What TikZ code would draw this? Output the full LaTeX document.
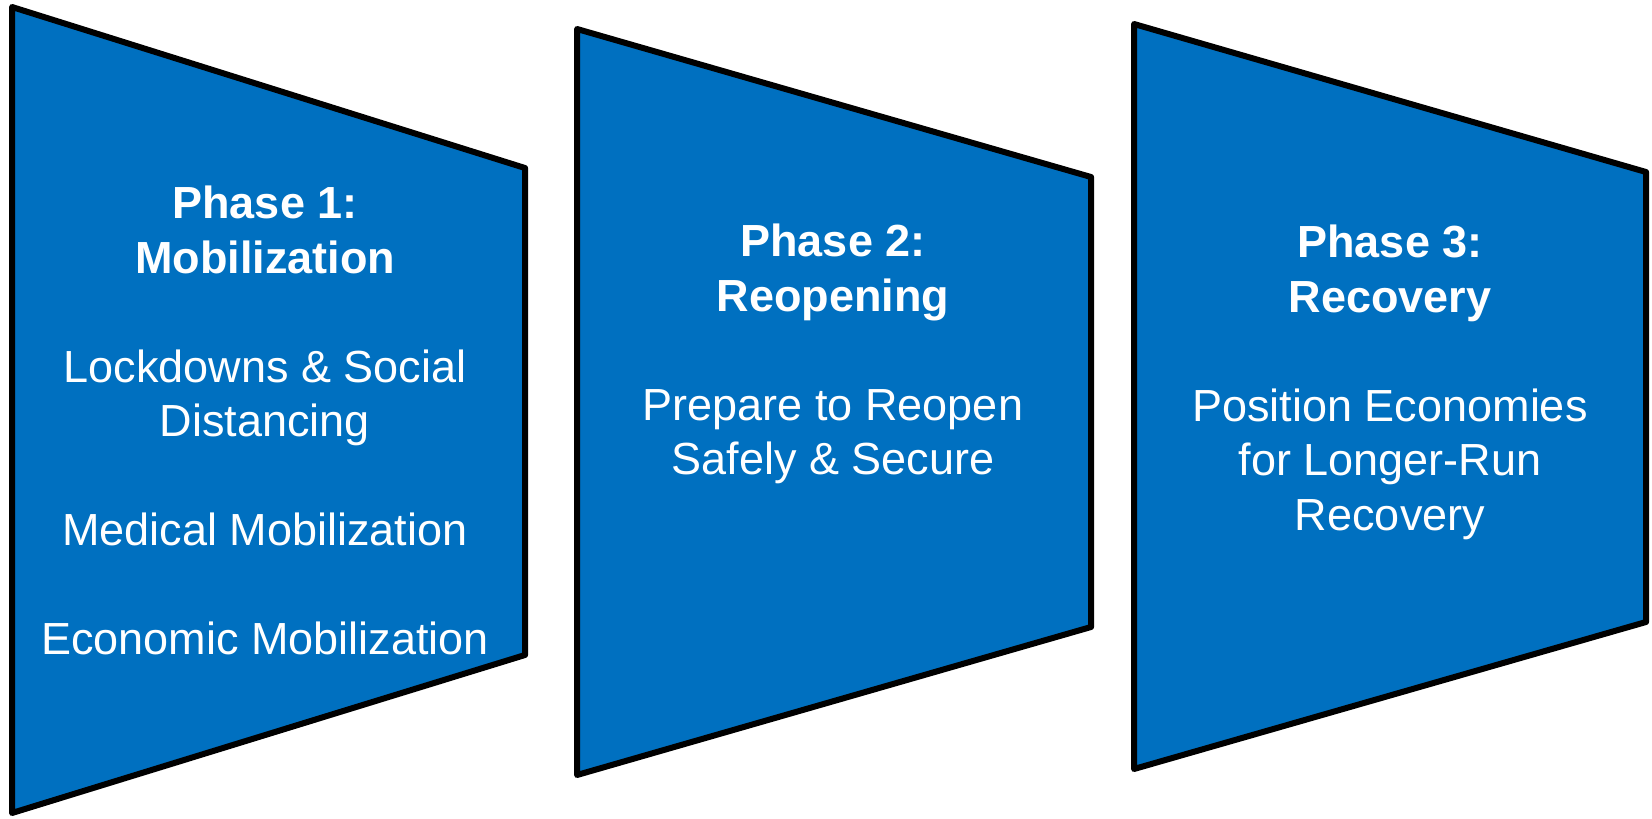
\documentclass[tikz,border=0pt]{standalone}
\usepackage{fontspec}
\setmainfont{Liberation Sans}
\definecolor{phaseblue}{HTML}{0070C0}
\begin{document}
\begin{tikzpicture}[x=1pt,y=-1pt,
  phase/.style={fill=phaseblue, draw=black, line width=6pt, line join=round},
  ptext/.style={text=white, align=center, inner sep=0pt, anchor=north,
    font=\fontsize{45}{54.5}\selectfont}]
\useasboundingbox (0,0) rectangle (1652,819);
\draw[phase] (12,7) -- (525,168) -- (525,655) -- (12,813) -- cycle;
\draw[phase] (577,29) -- (1091,177) -- (1091,627) -- (577,775) -- cycle;
\draw[phase] (1134,24) -- (1646,172) -- (1646,622) -- (1134,769) -- cycle;
\node[ptext] (t1) at (265,186) {\bfseries Phase 1:\\ \bfseries Mobilization\\[54.5pt]
  Lockdowns \& Social\\ Distancing\\[54.5pt] Medical Mobilization\\[54.5pt] Economic Mobilization};
\node[ptext] (t2) at (833,224) {\bfseries Phase 2:\\ \bfseries Reopening\\[54.5pt]
  Prepare to Reopen\\ Safely \& Secure};
\node[ptext] (t3) at (1390,225) {\bfseries Phase 3:\\ \bfseries Recovery\\[54.5pt]
  Position Economies\\ for Longer-Run\\ Recovery};
\end{tikzpicture}
\end{document}
